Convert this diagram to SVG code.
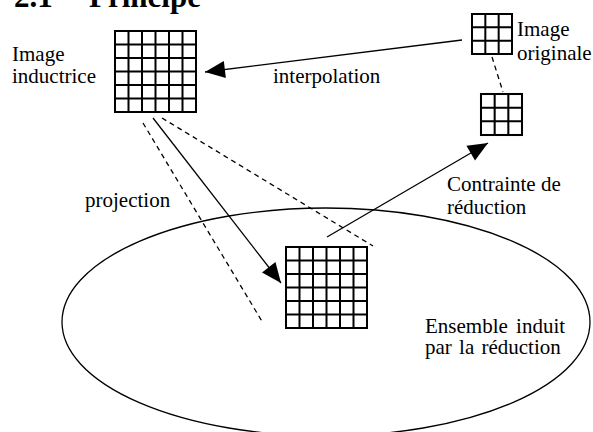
<svg xmlns="http://www.w3.org/2000/svg" xmlns:xlink="http://www.w3.org/1999/xlink" width="593" height="432" viewBox="0 0 593 432">
<style>
text{font-family:"Liberation Serif","Times New Roman",serif;font-size:21px;fill:#000}
.title{font-weight:bold;font-size:31px}
.grid{fill:#fff;stroke:#000;stroke-width:2}
.conn{stroke:#000;stroke-width:1.3;fill:none}
.dash{stroke-dasharray:5 4}
</style>
<defs>
<marker id="ah" viewBox="-21 -10 22 20" refX="0" refY="0" markerWidth="22" markerHeight="20" markerUnits="userSpaceOnUse" orient="auto">
<polygon points="0,0 -20,-8.5 -20,8.5" fill="#000"/>
</marker>
<g id="g6">
<rect x="0" y="0" width="81" height="81" class="grid"/>
<path d="M13.5 0V81M27 0V81M40.5 0V81M54 0V81M67.5 0V81M0 13.5H81M0 27H81M0 40.5H81M0 54H81M0 67.5H81" class="grid"/>
</g>
<g id="g3">
<rect x="0" y="0" width="40" height="40" class="grid"/>
<path d="M13.33 0V40M26.67 0V40M0 13.33H40M0 26.67H40" class="grid"/>
</g>
</defs>
<rect width="593" height="432" fill="#fff"/>
<text class="title" x="14" y="7">2.1</text>
<text class="title" x="89" y="7">Principe</text>
<g id="connectors">
<ellipse cx="326" cy="322" rx="264" ry="114" class="conn"/>
<line x1="462" y1="40" x2="205" y2="72" class="conn" marker-end="url(#ah)"/>
<line x1="153" y1="118" x2="281" y2="283" class="conn" marker-end="url(#ah)"/>
<line x1="327" y1="237" x2="488" y2="143" class="conn" marker-end="url(#ah)"/>
<line x1="143" y1="123" x2="263" y2="323" class="conn dash"/>
<line x1="162" y1="118" x2="373" y2="246" class="conn dash"/>
<line x1="492" y1="57" x2="503" y2="92" class="conn dash"/>
</g>
<g id="image-inductrice">
<use xlink:href="#g6" x="115" y="31"/>
<text x="12" y="61">Image</text>
<text x="12" y="83">inductrice</text>
</g>
<g id="image-originale">
<use xlink:href="#g3" x="472" y="14"/>
<text x="517" y="36">Image</text>
<text x="517" y="60">originale</text>
</g>
<g id="image-reduite">
<use xlink:href="#g3" x="481" y="94" transform="translate(481 94) scale(1.025) translate(-481 -94)"/>
</g>
<g id="image-projetee">
<use xlink:href="#g6" x="286" y="247"/>
</g>
<g id="labels">
<text x="273" y="83">interpolation</text>
<text x="85" y="207">projection</text>
<text x="447" y="191">Contrainte de</text>
<text x="447" y="214">réduction</text>
<text x="425" y="333" word-spacing="3">Ensemble induit</text>
<text x="425" y="354" word-spacing="2">par la réduction</text>
</g>
</svg>
